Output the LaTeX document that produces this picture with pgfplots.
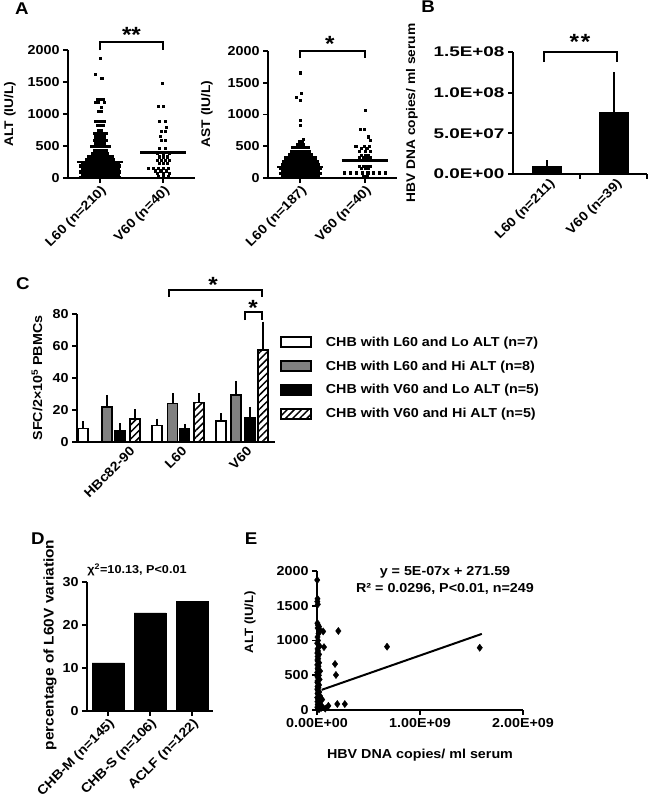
\documentclass[border=0pt]{standalone}
\usepackage{fontspec}
\setmainfont{Liberation Sans}[FakeStretch=1.1]
\newfontfamily\wide{Liberation Sans}[FakeStretch=1.35]
\usepackage{pgfplots}
\pgfplotsset{compat=1.18}
\usetikzlibrary{patterns.meta}
\newcommand\F[1]{\fontsize{#1}{#1}\selectfont\bfseries}
\pgfplotsset{
  gp/.style={
    scale only axis,
    anchor=south west,
    axis x line=bottom, axis y line=left,
    axis line style={-, line width=2pt, black},
    tick style={black, line width=1.8pt},
    tick align=outside,
    major tick length=5pt,
    minor tick length=5pt,
    tick label style={font=\F{13}},
    /pgf/number format/assume math mode=true,
    scaled x ticks=false, scaled y ticks=false,
    clip=false,
  },
  dots/.style={only marks, mark=square*, mark size=1.05pt, black, mark options={draw=none, fill=black}},
}
\begin{document}
\begin{tikzpicture}[font=\F{13}, line cap=rect]
% ---------------- Panel A: ALT ----------------
\begin{axis}[gp, at={(68pt,-178pt)}, width=127pt, height=128pt,
  xmin=0, xmax=2, ymin=0, ymax=2000,
  xtick={0.5,1.5}, xticklabels={L60 (n=210), V60 (n=40)},
  x tick label style={rotate=45, anchor=north east, inner sep=1pt},
  ytick={0,500,1000,1500,2000}, yticklabels={0,500,1000,1500,2000}]
\addplot[dots] coordinates {
(0.5,1870)(0.432,1615)(0.53,1555)
(0.453,1230)(0.5,1230)(0.547,1230)
(0.43,1190)(0.477,1190)(0.57,1190)
(0.523,1100)
(0.477,1040)(0.523,1040)
(0.43,890)(0.477,890)(0.523,890)(0.57,890)
(0.453,830)(0.5,830)(0.547,830)
(0.477,750)(0.523,750)
(0.406,700)(0.453,700)(0.5,700)(0.547,700)(0.594,700)
(0.43,645)(0.477,645)(0.523,645)(0.57,645)
(0.406,595)(0.453,595)(0.5,595)(0.547,595)(0.594,595)
(0.43,540)(0.477,540)(0.523,540)(0.57,540)
(0.359,490)(0.406,490)(0.453,490)(0.5,490)(0.547,490)(0.594,490)(0.641,490)
(0.406,430)(0.453,430)(0.5,430)(0.547,430)(0.594,430)
(0.383,383)(0.43,383)(0.477,383)(0.523,383)(0.57,383)(0.617,383)
(0.312,335)(0.359,335)(0.406,335)(0.453,335)(0.5,335)(0.547,335)(0.594,335)(0.641,335)(0.688,335)
(0.289,288)(0.336,288)(0.383,288)(0.43,288)(0.477,288)(0.523,288)(0.57,288)(0.617,288)(0.664,288)(0.711,288)
(0.218,240)(0.265,240)(0.312,240)(0.359,240)(0.406,240)(0.453,240)(0.5,240)(0.547,240)(0.594,240)(0.641,240)(0.688,240)(0.735,240)(0.782,240)
(0.195,193)(0.242,193)(0.289,193)(0.336,193)(0.383,193)(0.43,193)(0.477,193)(0.523,193)(0.57,193)(0.617,193)(0.664,193)(0.711,193)(0.758,193)(0.805,193)
(0.218,146)(0.265,146)(0.312,146)(0.359,146)(0.406,146)(0.453,146)(0.5,146)(0.547,146)(0.594,146)(0.641,146)(0.688,146)(0.735,146)(0.782,146)
(0.195,99)(0.242,99)(0.289,99)(0.336,99)(0.383,99)(0.43,99)(0.477,99)(0.523,99)(0.57,99)(0.617,99)(0.664,99)(0.711,99)(0.758,99)(0.805,99)
(0.218,52)(0.265,52)(0.312,52)(0.359,52)(0.406,52)(0.453,52)(0.5,52)(0.547,52)(0.594,52)(0.641,52)(0.688,52)(0.735,52)(0.782,52)
(0.195,10)(0.242,10)(0.289,10)(0.336,10)(0.383,10)(0.43,10)(0.477,10)(0.523,10)(0.57,10)(0.617,10)(0.664,10)(0.711,10)(0.758,10)(0.805,10)
};
\addplot[dots] coordinates {
(1.49,1477)
(1.42,1128)(1.5,1128)
(1.43,889)(1.53,889)
(1.55,790)
(1.47,738)(1.53,738)
(1.45,655)
(1.47,593)(1.53,593)
(1.44,463)(1.53,463)
(1.41,385)(1.5,385)(1.59,385)
(1.44,333)(1.5,333)(1.56,333)
(1.41,281)(1.47,281)(1.53,281)(1.59,281)
(1.44,229)(1.5,229)(1.56,229)
(1.26,150)(1.34,150)(1.42,150)(1.5,150)(1.58,150)
(1.38,114)(1.46,114)(1.54,114)
(1.4,73)(1.5,73)(1.6,73)
(1.42,31)(1.5,31)(1.58,31)
};
\addplot[black, line width=2.2pt] coordinates {(0.14,250)(0.86,250)};
\addplot[black, line width=2.2pt] coordinates {(1.14,400)(1.86,400)};
\draw[line width=2pt] (axis cs:0.5,2000) -- (axis cs:0.5,2125) -- (axis cs:1.5,2125) -- (axis cs:1.5,2000);
\node[font=\F{22}, anchor=base, inner sep=0pt] at (axis cs:1,2116) {**};
\end{axis}
% ---------------- Panel A: AST ----------------
\begin{axis}[gp, at={(268pt,-178pt)}, width=129pt, height=127pt,
  xmin=0, xmax=2, ymin=0, ymax=2000,
  xtick={0.5,1.5}, xticklabels={L60 (n=187), V60 (n=40)},
  x tick label style={rotate=45, anchor=north east, inner sep=1pt},
  ytick={0,500,1000,1500,2000}, yticklabels={0,500,1000,1500,2000}]
\addplot[dots] coordinates {
(0.5,1659)(0.51,1333)(0.437,1270)(0.5,1228)(0.5,913)(0.5,835)(0.55,614)
(0.477,572)(0.523,572)
(0.453,530)(0.5,530)(0.547,530)
(0.383,478)(0.43,478)(0.477,478)(0.523,478)(0.57,478)(0.617,478)
(0.359,425)(0.406,425)(0.453,425)(0.5,425)(0.547,425)(0.594,425)(0.641,425)
(0.336,373)(0.383,373)(0.43,373)(0.477,373)(0.523,373)(0.57,373)(0.617,373)(0.664,373)
(0.265,320)(0.312,320)(0.359,320)(0.406,320)(0.453,320)(0.5,320)(0.547,320)(0.594,320)(0.641,320)(0.688,320)(0.735,320)
(0.242,268)(0.289,268)(0.336,268)(0.383,268)(0.43,268)(0.477,268)(0.523,268)(0.57,268)(0.617,268)(0.664,268)(0.711,268)(0.758,268)
(0.218,215)(0.265,215)(0.312,215)(0.359,215)(0.406,215)(0.453,215)(0.5,215)(0.547,215)(0.594,215)(0.641,215)(0.688,215)(0.735,215)(0.782,215)
(0.195,163)(0.242,163)(0.289,163)(0.336,163)(0.383,163)(0.43,163)(0.477,163)(0.523,163)(0.57,163)(0.617,163)(0.664,163)(0.711,163)(0.758,163)(0.805,163)
(0.218,116)(0.265,116)(0.312,116)(0.359,116)(0.406,116)(0.453,116)(0.5,116)(0.547,116)(0.594,116)(0.641,116)(0.688,116)(0.735,116)(0.782,116)
(0.195,69)(0.242,69)(0.289,69)(0.336,69)(0.383,69)(0.43,69)(0.477,69)(0.523,69)(0.57,69)(0.617,69)(0.664,69)(0.711,69)(0.758,69)(0.805,69)
(0.218,22)(0.265,22)(0.312,22)(0.359,22)(0.406,22)(0.453,22)(0.5,22)(0.547,22)(0.594,22)(0.641,22)(0.688,22)(0.735,22)(0.782,22)
};
\addplot[dots] coordinates {
(1.5,1071)
(1.427,766)(1.49,766)
(1.55,651)(1.59,598)
(1.36,504)(1.49,504)(1.57,504)
(1.44,467)(1.53,467)
(1.41,425)(1.5,425)(1.59,425)
(1.44,362)(1.5,362)(1.56,362)
(1.41,325)(1.47,325)(1.53,325)(1.59,325)
(1.44,283)(1.5,283)(1.56,283)
(1.41,189)(1.47,189)(1.53,189)(1.59,189)
(1.44,152)(1.5,152)(1.56,152)
(1.185,84)(1.275,84)(1.365,84)(1.455,84)(1.545,84)(1.635,84)(1.725,84)(1.815,84)
(1.47,31)(1.53,31)
};
\addplot[black, line width=2.2pt] coordinates {(0.14,170)(0.86,170)};
\addplot[black, line width=2.2pt] coordinates {(1.14,275)(1.86,275)};
\draw[line width=2pt] (axis cs:0.5,1890) -- (axis cs:0.5,2000) -- (axis cs:1.5,2000) -- (axis cs:1.5,1890);
\node[font=\F{22}, anchor=base, inner sep=0pt] at (axis cs:0.96,1990) {*};
\end{axis}
% ---------------- Panel B ----------------
\begin{axis}[gp, at={(513pt,-174pt)}, width=134pt, height=122pt,
  xmin=0, xmax=2, ymin=0, ymax=1.5e8,
  major tick length=0pt, minor tick length=5pt,
  xtick={0.5,1.5}, xticklabels={L60 (n=211), V60 (n=39)},
  minor xtick={1,2},
  x tick label style={rotate=45, anchor=north east, inner sep=1pt, yshift=-3pt},
  ytick={0,5e7,1e8,1.5e8}, minor ytick={0,5e7,1e8,1.5e8},
  yticklabels={0.0E+00,5.0E+07,1.0E+08,1.5E+08},
  yticklabel style={font=\wide\F{14}, xshift=-5pt}]
\addplot[ybar, bar width=29pt, bar shift=0pt, fill=black, draw=black,
  error bars/.cd, y dir=plus, y explicit,
  error bar style={line width=2pt, black},
  error mark options={line width=2pt, black, mark size=5pt}]
  coordinates {(0.5,9.8e6) +- (0,1.2e6) (1.5,7.6e7) +- (0,4.3e7)};
\draw[line width=2pt] (axis cs:0.46,1.377e8) -- (axis cs:0.46,1.5e8) -- (axis cs:1.55,1.5e8) -- (axis cs:1.55,1.377e8);
\node[font=\F{22}, anchor=base, inner sep=0pt] at (axis cs:1,1.53e8) {*\kern2pt*};
\end{axis}
% ---------------- Panel C ----------------
\begin{axis}[gp, at={(77pt,-442pt)}, width=198pt, height=128pt,
  xmin=77, xmax=275, ymin=0, ymax=80,
  major tick length=0pt, minor tick length=5pt,
  xtick={127,179,244}, xticklabels={HBc82-90,L60,V60},
  x tick label style={rotate=45, anchor=north east, inner sep=1pt, yshift=-3pt},
  ytick={0,20,40,60,80}, minor ytick={0,20,40,60,80},
  yticklabels={0,20,40,60,80},
  yticklabel style={xshift=-5pt},
  ybar, bar width=10pt,
  every axis plot/.append style={bar shift=0pt, line width=1.7pt, draw=black,
    legend image code/.code={\draw[##1, line width=1.7pt, draw=black] (0pt,-5pt) rectangle (30pt,5pt); \path (42pt,0pt);}},
  error bars/y dir=plus, error bars/y explicit,
  error bars/error bar style={line width=2pt, black},
  error bars/error mark options={line width=2pt, black, mark size=3.5pt},
  legend style={at={(axis description cs:1.025,0.84)}, anchor=north west, draw=none, fill=none,
    inner sep=0pt, row sep=9pt, font=\F{13}},
  legend cell align=left]
\addplot[bar shift=0pt, fill=white] coordinates {(83.3,8.4) +- (0,2.3) (157,10.4) +- (0,2.1) (221.3,13) +- (0,2.7)};
\addlegendentry{CHB with L60 and Lo ALT (n=7)}
\addplot[bar shift=0pt, fill=gray] coordinates {(106.7,21.9) +- (0,5.3) (172.5,24) +- (0,4.2) (235.7,29.2) +- (0,6.9)};
\addlegendentry{CHB with L60 and Hi ALT (n=8)}
\addplot[bar shift=0pt, fill=black] coordinates {(120,6.9) +- (0,2.5) (184.5,8.4) +- (0,0.8) (249.7,15) +- (0,4.8)};
\addlegendentry{CHB with V60 and Lo ALT (n=5)}
\addplot[bar shift=0pt, fill=white, postaction={pattern={Lines[angle=45,distance=5pt,line width=1.5pt]}}] coordinates {(135.3,14.2) +- (0,4) (199,24.6) +- (0,3.6) (263.3,57.4) +- (0,15.7)};
\addlegendentry{CHB with V60 and Hi ALT (n=5)}
\draw[line width=2pt] (axis cs:169,90.6) -- (axis cs:169,95) -- (axis cs:262,95) -- (axis cs:262,90.6);
\draw[line width=2pt] (axis cs:245,76.25) -- (axis cs:245,81.25) -- (axis cs:262,81.25) -- (axis cs:262,76.25);
\node[font=\F{22}, anchor=base, inner sep=0pt] at (axis cs:213,93.4) {*};
\node[font=\F{22}, anchor=base, inner sep=0pt] at (axis cs:253,79) {*};
\end{axis}
% ---------------- Panel D ----------------
\begin{axis}[gp, at={(87pt,-711pt)}, width=126pt, height=129pt,
  xmin=0.5, xmax=3.5, ymin=0, ymax=30,
  xtick={1,2,3}, xticklabels={CHB-M (n=145),CHB-S (n=106),ACLF (n=122)},
  x tick label style={rotate=45, anchor=north east, inner sep=1pt},
  ytick={0,10,20,30}, yticklabels={0,10,20,30}]
\addplot[ybar, bar width=32pt, bar shift=0pt, fill=black, draw=black] coordinates {(1,11.2)(2,22.8)(3,25.5)};
\end{axis}
% ---------------- Panel E ----------------
\begin{axis}[gp, at={(317pt,-710pt)}, width=206pt, height=139pt,
  xmin=0, xmax=2e9, ymin=0, ymax=2000,
  xtick={0,1e9,2e9}, xticklabels={0.00E+00,1.00E+09,2.00E+09},
  ytick={0,500,1000,1500,2000}, yticklabels={0,500,1000,1500,2000}]
\addplot[only marks, mark=diamond*, mark size=3.6pt, black] coordinates {
(2e6,1870)(5e6,1600)(3e6,1560)(8e6,1520)(4e6,1250)(1e7,1220)(2e7,1200)(6e6,1180)(3e7,1150)(1.5e7,1100)
(5e6,1050)(1e7,1000)(2e6,960)(2.5e7,920)(5e6,880)(1e7,850)(3e6,820)(2e7,800)(6e6,770)(1.2e7,740)
(4e6,720)(8e6,700)(2e7,680)(3e6,650)(1.5e7,630)(6e6,600)(1e7,580)(3e7,560)(2e6,540)(8e6,520)
(1.8e7,500)(4e6,480)(1.2e7,460)(2.5e7,440)(6e6,420)(3e6,400)(1e7,380)(2e7,360)(5e6,340)(1.4e7,320)
(3e6,300)(8e6,280)(2.2e7,260)(5e6,240)(1.2e7,220)(3e7,200)(2e6,180)(9e6,160)(1.6e7,140)(4e6,120)
(2.5e7,100)(7e6,80)(1.5e7,60)(3e6,40)(1e7,20)(4e7,30)(5e7,50)(2e7,10)
(6e7,1130)(2.07e8,1137)(6.8e7,905)(6.8e8,911)(1.58e9,896)(1.75e8,662)(1.84e8,504)
(1.1e8,60)(1.97e8,86)(2.7e8,86)(5e7,150)(8e7,20)
};
\addplot[black, line width=2pt] coordinates {(4.5e7,290)(1.6e9,1095)};
\end{axis}
% ---------------- Labels ----------------
\node[font=\F{17}, inner sep=0pt] at (22pt,-9pt) {A};
\node[font=\F{17}, inner sep=0pt] at (428pt,-7pt) {B};
\node[font=\F{17}, inner sep=0pt] at (23pt,-284pt) {C};
\node[font=\F{17}, inner sep=0pt] at (38pt,-539pt) {D};
\node[font=\F{17}, inner sep=0pt] at (251pt,-539pt) {E};
\node[font=\F{12.5}, rotate=90, inner sep=0pt] at (10pt,-114pt) {ALT (IU/L)};
\node[font=\F{12.5}, rotate=90, inner sep=0pt] at (207pt,-114pt) {AST (IU/L)};
\node[font=\F{12.5}, rotate=90, inner sep=0pt] at (412pt,-113pt) {HBV DNA copies/ ml serum};
\node[font=\F{13}, rotate=90, inner sep=0pt] at (37pt,-378pt) {SFC/2×10\textsuperscript{5} PBMCs};
\node[font=\F{14}, rotate=90, inner sep=0pt] at (50pt,-645pt) {percentage of L60V variation};
\node[font=\F{11.5}, inner sep=0pt] at (137pt,-570pt) {χ\textsuperscript{2}=10.13, P<0.01};
\node[font=\F{12}, rotate=90, inner sep=0pt] at (250pt,-622pt) {ALT (IU/L)};
\node[font=\F{13}, inner sep=0pt] at (420pt,-755pt) {HBV DNA copies/ ml serum};
\node[font=\F{13}, inner sep=0pt] at (445pt,-572pt) {y = 5E-07x + 271.59};
\node[font=\F{13}, inner sep=0pt] at (445pt,-589pt) {R² = 0.0296, P<0.01, n=249};
\pgfresetboundingbox
\path[use as bounding box] (0pt,0pt) rectangle (650pt,-803pt);
\end{tikzpicture}
\end{document}
